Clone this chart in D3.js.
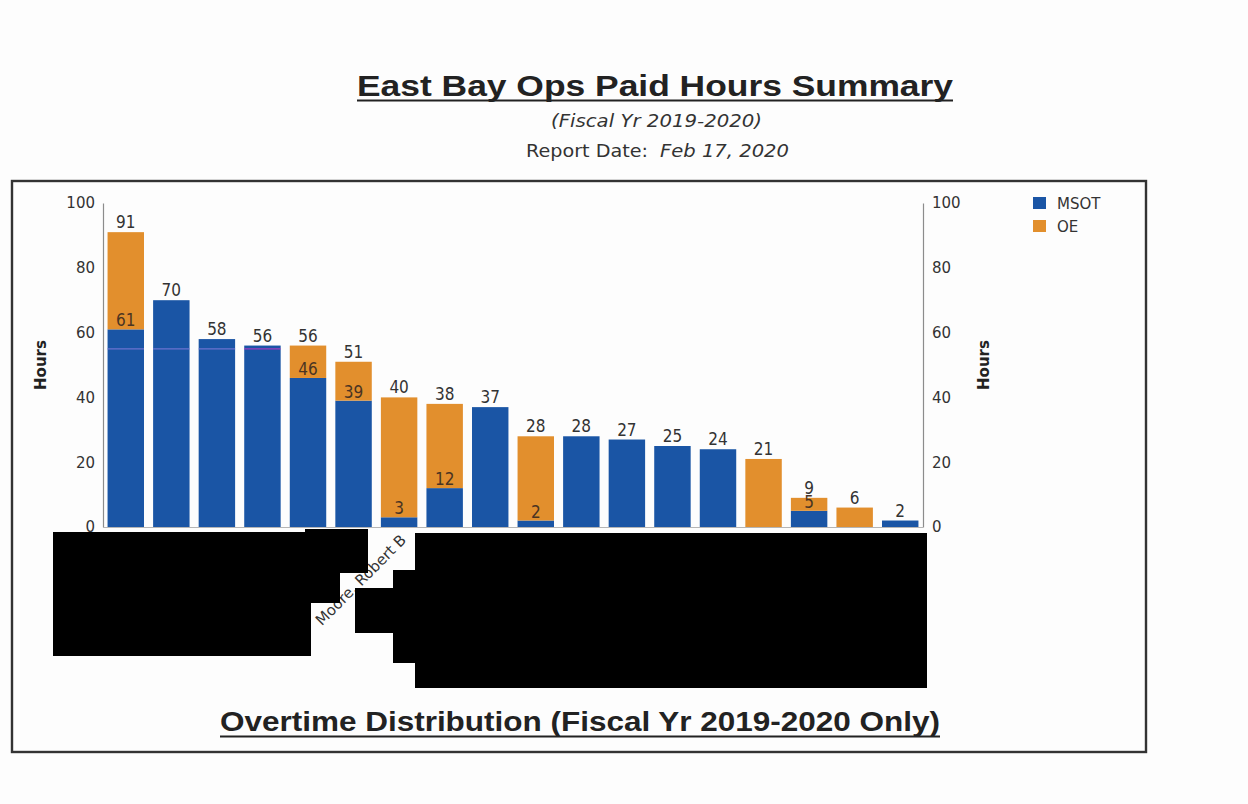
<!DOCTYPE html>
<html>
<head>
<meta charset="utf-8">
<script src="https://cdn.jsdelivr.net/npm/d3@7"></script>
<style>
  html, body { margin: 0; padding: 0; background: #fdfdfd; }
  svg { display: block; }
</style>
</head>
<body>
<svg id="chart" width="1248" height="804"></svg>
<script>
// Employees in ranking order (names withheld except where published)
const employees = [null, null, null, null, null, null, "Moore, Robert B", null, null,
                   null, null, null, null, null, null, null, null, null];
// Paid overtime hours by type
const msotHours = [61, 70, 58, 56, 46, 39, 3, 12, 37, 2, 28, 27, 25, 24, 0, 5, 0, 2];
const oeHours   = [30, 0, 0, 0, 10, 12, 37, 26, 0, 26, 0, 0, 0, 0, 21, 4, 6, 0];
const seriesKeys = ["MSOT", "OE"];
const seriesColors = ["#1a55a5", "#e28f2d"];
const yTicks = [0, 20, 40, 60, 80, 100];
// Faint reference mark crossing the first bars
const refLevel = [55, 55, 55, 55];

const svg = d3.select("#chart");

// Report header
svg.append("text").attr("x", 357).attr("y", 96)
  .attr("textLength", 596).attr("lengthAdjust", "spacingAndGlyphs")
  .style("font", "bold 29px 'Liberation Sans', Arial, sans-serif").attr("fill", "#222")
  .text("East Bay Ops Paid Hours Summary");
svg.append("line").attr("x1", 357).attr("x2", 953).attr("y1", 100.5).attr("y2", 100.5)
  .attr("stroke", "#222").attr("stroke-width", 2.2);

svg.append("text").attr("x", 551).attr("y", 127)
  .attr("textLength", 211).attr("lengthAdjust", "spacingAndGlyphs")
  .style("font", "italic 17px 'DejaVu Sans', sans-serif").attr("fill", "#333")
  .text("(Fiscal Yr 2019-2020)");
svg.append("text").attr("x", 526).attr("y", 157)
  .attr("textLength", 122).attr("lengthAdjust", "spacingAndGlyphs")
  .style("font", "17px 'DejaVu Sans', sans-serif").attr("fill", "#333")
  .text("Report Date:");
svg.append("text").attr("x", 660).attr("y", 157)
  .attr("textLength", 129).attr("lengthAdjust", "spacingAndGlyphs")
  .style("font", "italic 17px 'DejaVu Sans', sans-serif").attr("fill", "#333")
  .text("Feb 17, 2020");

// Chart frame
svg.append("rect").attr("x", 12).attr("y", 181).attr("width", 1134).attr("height", 571)
  .attr("fill", "none").attr("stroke", "#333").attr("stroke-width", 2.4);

// Scales
const x = d3.scaleBand().domain(d3.range(employees.length))
  .range([103, 923]).paddingInner(0.2).paddingOuter(0.1);
const y = d3.scaleLinear().domain([0, 100]).range([527, 203]);
const color = d3.scaleOrdinal().domain(seriesKeys).range(seriesColors);

const rows = employees.map((name, i) => ({ i, name, MSOT: msotHours[i], OE: oeHours[i] }));
const stacked = d3.stack().keys(seriesKeys)(rows);

// Axes
const tickFont = "15px 'DejaVu Sans', Verdana, sans-serif";
const leftAxis = svg.append("g").attr("transform", "translate(103,0)")
  .call(d3.axisLeft(y).tickValues(yTicks).tickSize(0).tickPadding(8));
const rightAxis = svg.append("g").attr("transform", "translate(923,0)")
  .call(d3.axisRight(y).tickValues(yTicks).tickSize(0).tickPadding(9));
[leftAxis, rightAxis].forEach(g => {
  g.select(".domain").attr("stroke", "#8c8c8c").attr("stroke-width", 1.2);
  g.selectAll("text").style("font", tickFont).attr("fill", "#333");
});
svg.append("line").attr("x1", 103).attr("x2", 923).attr("y1", 527.5).attr("y2", 527.5)
  .attr("stroke", "#b5b5b5").attr("stroke-width", 1);

svg.append("text").attr("transform", "translate(46,365) rotate(-90)")
  .attr("text-anchor", "middle")
  .style("font", "bold 15px 'DejaVu Sans', sans-serif").attr("fill", "#222").text("Hours");
svg.append("text").attr("transform", "translate(989,365) rotate(-90)")
  .attr("text-anchor", "middle")
  .style("font", "bold 15px 'DejaVu Sans', sans-serif").attr("fill", "#222").text("Hours");

// Stacked bars
svg.append("g").selectAll("g").data(stacked).join("g")
  .attr("fill", d => color(d.key))
  .selectAll("rect").data(d => d).join("rect")
  .attr("x", d => x(d.data.i))
  .attr("width", x.bandwidth())
  .attr("y", d => y(d[1]))
  .attr("height", d => y(d[0]) - y(d[1]));

// Reference mark
svg.append("g").selectAll("line").data(refLevel).join("line")
  .attr("x1", (v, i) => x(i)).attr("x2", (v, i) => x(i) + x.bandwidth())
  .attr("y1", v => y(v)).attr("y2", v => y(v))
  .attr("stroke", (v, i) => i === 3 ? "#b43cc8" : "#7a78d8")
  .attr("stroke-width", 1.3).attr("opacity", 0.85);

// Value labels: MSOT top inside the stack, total on top
const labelFont = "17px 'DejaVu Sans Condensed', 'DejaVu Sans', sans-serif";
const labels = svg.append("g").attr("text-anchor", "middle");
rows.forEach(r => {
  const total = r.MSOT + r.OE;
  if (r.MSOT > 0 && r.OE > 0) {
    labels.append("text").attr("x", x(r.i) + x.bandwidth() / 2).attr("y", y(r.MSOT) - 3)
      .style("font", labelFont).attr("fill", "#4a3422").text(r.MSOT);
  }
  labels.append("text").attr("x", x(r.i) + x.bandwidth() / 2).attr("y", y(total) - 4)
    .style("font", labelFont).attr("fill", "#333").text(total);
});

// Category labels
svg.append("g").selectAll("text").data(rows.filter(r => r.name)).join("text")
  .attr("transform", r => `translate(${x(r.i) + x.bandwidth() / 2 + 8},541) rotate(-45)`)
  .attr("text-anchor", "end")
  .style("font", "15px 'DejaVu Sans', sans-serif").attr("fill", "#333")
  .text(r => r.name);

// Redaction blocks over withheld names
const redactions = [
  [[53,532],[305,532],[305,529],[368,529],[368,573],[340,573],[340,603],[311,603],[311,656],[53,656]],
  [[415,533],[927,533],[927,688],[415,688],[415,663],[393,663],[393,633],[355,633],[355,588],[393,588],[393,570],[415,570]]
];
svg.append("g").selectAll("polygon").data(redactions).join("polygon")
  .attr("points", d => d.map(p => p.join(",")).join(" "))
  .attr("fill", "#000");

// Legend
const legend = svg.append("g").attr("transform", "translate(1033,197)");
seriesKeys.forEach((k, i) => {
  legend.append("rect").attr("x", 0).attr("y", i * 23).attr("width", 13).attr("height", 12)
    .attr("fill", color(k));
  legend.append("text").attr("x", 24).attr("y", i * 23 + 11.5)
    .style("font", "15px 'DejaVu Sans', sans-serif").attr("fill", "#333").text(k);
});

// Footer title
svg.append("text").attr("x", 220).attr("y", 731)
  .attr("textLength", 720).attr("lengthAdjust", "spacingAndGlyphs")
  .style("font", "bold 27px 'Liberation Sans', Arial, sans-serif").attr("fill", "#222")
  .text("Overtime Distribution (Fiscal Yr 2019-2020 Only)");
svg.append("line").attr("x1", 220).attr("x2", 940).attr("y1", 736.5).attr("y2", 736.5)
  .attr("stroke", "#222").attr("stroke-width", 2.2);
</script>
</body>
</html>
